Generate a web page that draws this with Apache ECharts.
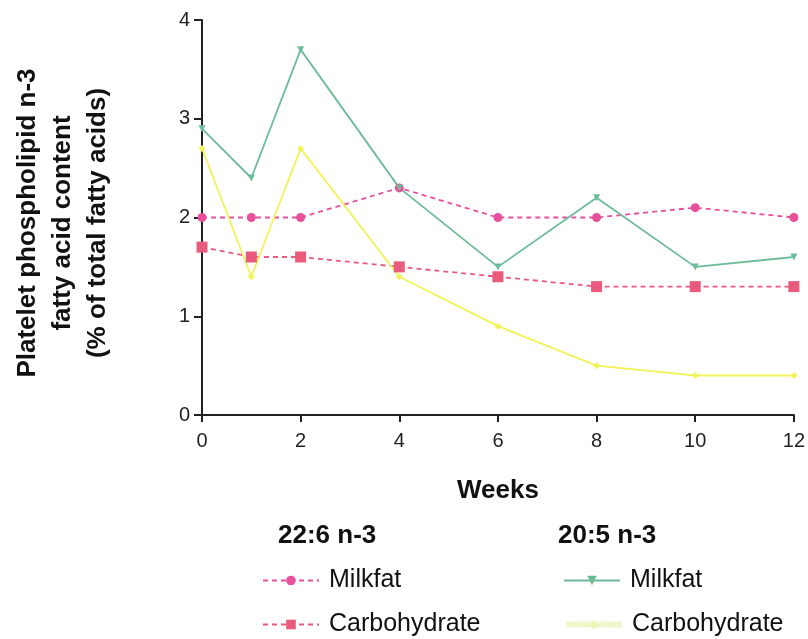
<!DOCTYPE html>
<html><head><meta charset="utf-8">
<script src="https://cdn.jsdelivr.net/npm/echarts@6/dist/echarts.min.js"></script>
<style>html,body{margin:0;padding:0;background:#fff}#c{width:808px;height:639px}</style>
</head><body><div id="c"></div>
<script>
const weeks = [0, 1, 2, 4, 6, 8, 10, 12];
const dha_milkfat = [2.0, 2.0, 2.0, 2.3, 2.0, 2.0, 2.1, 2.0];
const dha_carb = [1.7, 1.6, 1.6, 1.5, 1.4, 1.3, 1.3, 1.3];
const epa_milkfat = [2.9, 2.4, 3.7, 2.3, 1.5, 2.2, 1.5, 1.6];
const epa_carb = [2.7, 1.4, 2.7, 1.4, 0.9, 0.5, 0.4, 0.4];
const xTicks = [0, 2, 4, 6, 8, 10, 12];
const yTicks = [0, 1, 2, 3, 4];
const groupTitles = ['22:6 n-3', '20:5 n-3'];
const seriesNames = ['Milkfat', 'Carbohydrate'];
const yTitle = 'Platelet phospholipid n-3\nfatty acid content\n(% of total fatty acids)';
const xTitle = 'Weeks';

const pair = arr => weeks.map((w, i) => [w, arr[i]]);
const FONT = 'Liberation Sans, Arial, sans-serif';

const chart = echarts.init(document.getElementById('c'), null, {renderer: 'canvas'});
const mk = (id, name, data, color, dashed, symbol, size, rot) => ({
  id, name, type: 'line', data: pair(data),
  symbol, symbolSize: size, symbolRotate: rot || 0, showSymbol: true,
  lineStyle: {color, width: 1.8, type: dashed ? [5, 4] : 'solid'},
  itemStyle: {color},
  emphasis: {disabled: true}, animation: false
});
const leg = (item, label, left, top) => ({
  data: [item], left, top, padding: 0, orient: 'horizontal',
  itemWidth: 56, itemHeight: 12, selectedMode: false,
  formatter: () => label,
  textStyle: {fontFamily: FONT, fontSize: 25, color: '#111', padding: [0, 0, 0, 5]}
});
chart.setOption({
  backgroundColor: '#ffffff',
  animation: false,
  grid: {left: 202, right: 12, top: 20, bottom: 224, containLabel: false},
  xAxis: {
    type: 'value', min: 0, max: 12, interval: 2,
    name: xTitle, nameLocation: 'middle', nameGap: 63,
    nameTextStyle: {fontFamily: FONT, fontSize: 26, fontWeight: 'bold', color: '#111'},
    axisLine: {show: true, lineStyle: {color: '#222', width: 2}},
    axisTick: {show: true, length: 7, lineStyle: {color: '#222', width: 2}},
    axisLabel: {fontFamily: FONT, fontSize: 20, color: '#222', margin: 16,
      formatter: v => xTicks.includes(v) ? String(v) : ''},
    splitLine: {show: false}
  },
  yAxis: {
    type: 'value', min: 0, max: 4, interval: 1,
    axisLine: {show: true, lineStyle: {color: '#222', width: 2}},
    axisTick: {show: true, length: 8, lineStyle: {color: '#222', width: 2}},
    axisLabel: {fontFamily: FONT, fontSize: 20, color: '#222', margin: 12,
      formatter: v => yTicks.includes(v) ? String(v) : ''},
    splitLine: {show: false}
  },
  legend: [
    leg({name: 'm226'}, seriesNames[0], 262, 568),
    leg({name: 'c226'}, seriesNames[1], 262, 612),
    leg({name: 'm205'}, seriesNames[0], 563, 568),
    leg({name: 'c205', itemStyle: {color: '#eef4b8'}, lineStyle: {color: '#f1f6cc', width: 6}}, seriesNames[1], 563, 612)
  ],
  graphic: [
    {type: 'text', left: 278, top: 523, style: {text: groupTitles[0], font: 'bold 26px ' + FONT, fill: '#111'}},
    {type: 'text', left: 558, top: 523, style: {text: groupTitles[1], font: 'bold 26px ' + FONT, fill: '#111'}},
    {type: 'text', x: 63, y: 223, rotation: Math.PI / 2,
     style: {text: yTitle, font: 'bold 26px ' + FONT, fill: '#111', align: 'center', verticalAlign: 'middle', lineHeight: 35}}
  ],
  series: [
    mk('a', 'm226', dha_milkfat, '#e8509c', true, 'circle', 9),
    mk('b', 'c226', dha_carb, '#ea5a7c', true, 'rect', 11),
    mk('c', 'm205', epa_milkfat, '#6cbc98', false, 'triangle', 7, 180),
    mk('d', 'c205', epa_carb, '#f2f25a', false, 'diamond', 7)
  ]
});
</script></body></html>
